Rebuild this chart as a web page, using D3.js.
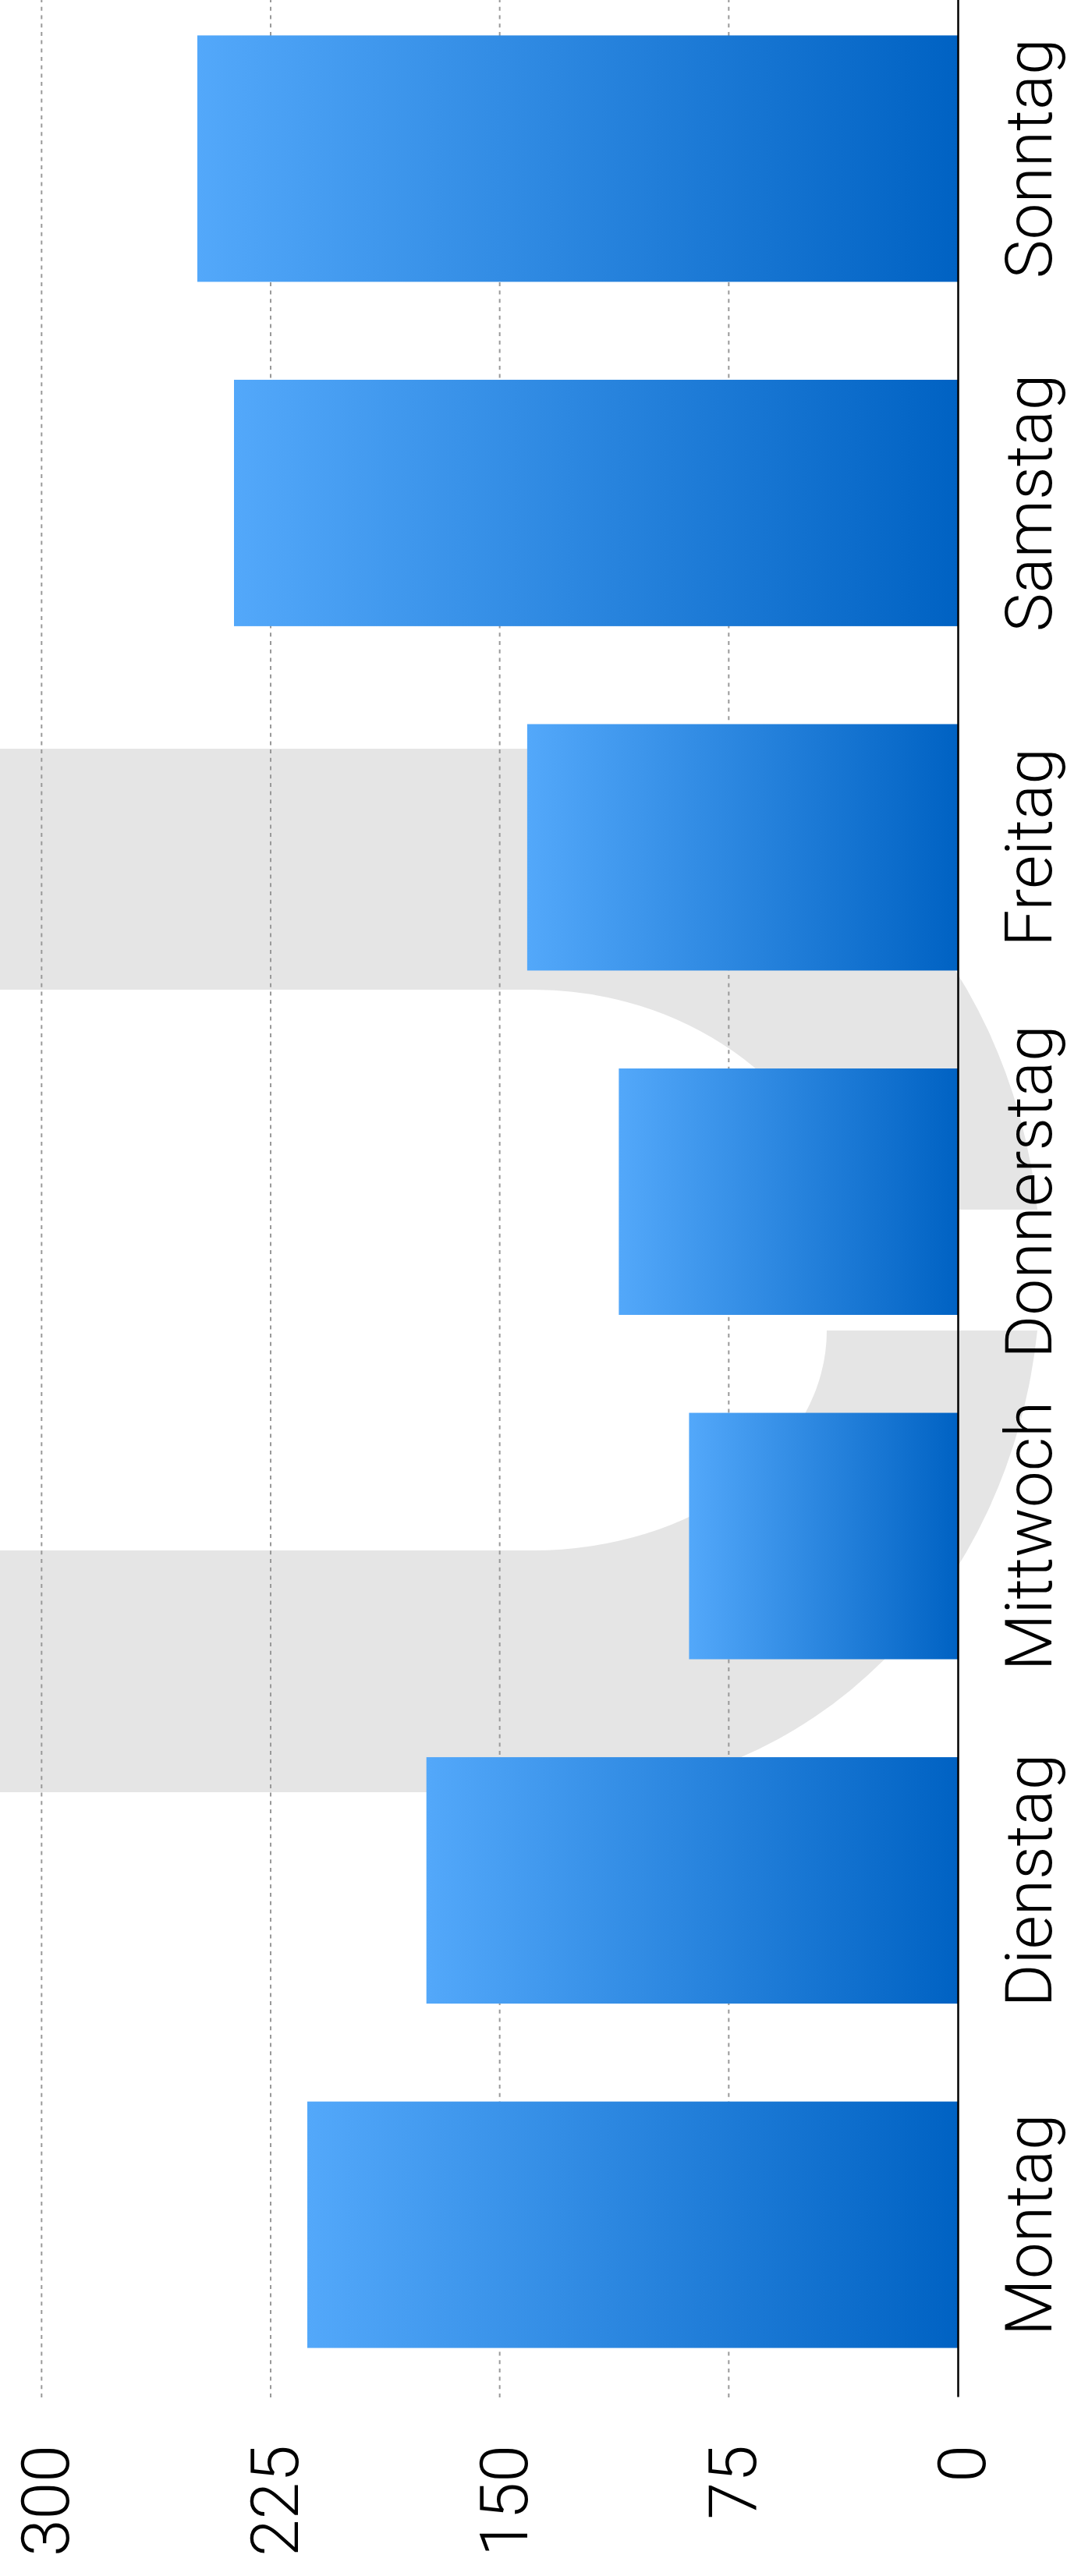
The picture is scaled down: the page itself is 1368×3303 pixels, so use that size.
<!DOCTYPE html>
<html>
<head>
<meta charset="utf-8">
<script src="https://cdn.jsdelivr.net/npm/d3@7"></script>
<style>
  body { margin: 0; background: #fff; }
  text { font-family: "Helvetica Neue", Roboto, "Liberation Sans", sans-serif; font-weight: 300; }
</style>
</head>
<body>
<svg id="barchart"></svg>
<script>
// Data
let days = ["Montag", "Dienstag", "Mittwoch", "Donnerstag", "Freitag", "Samstag", "Sonntag"];
let values = [213, 174, 88, 111, 141, 237, 249];
let valueTicks = [0, 75, 150, 225, 300];

let pageWidth = 1368,
  pageHeight = 3303;

// The chart is drawn as a normal column chart and then turned by -90 degrees
let margin = { left: 229, base: 1228 };
let chartLength = 3321 - margin.left;

let svg = d3
  .select("#barchart")
  .attr("width", pageWidth)
  .attr("height", pageHeight);

// Gradient for the bars (light at the top of a column, dark at the baseline)
let grad = svg
  .append("defs")
  .append("linearGradient")
  .attr("id", "barGrad")
  .attr("x1", 0)
  .attr("y1", 0)
  .attr("x2", 0)
  .attr("y2", 1);
grad.append("stop").attr("offset", "0%").attr("stop-color", "#53a8fa");
grad.append("stop").attr("offset", "100%").attr("stop-color", "#0062c3");

// Grey watermark in the background
svg
  .append("g")
  .attr("fill", "#e5e5e5")
  .selectAll("path")
  .data([
    "M0,960 L734,960 A600,669 0 0 1 1330,1551 L1084,1551 A410,359.5 0 0 0 684,1269 L0,1269 Z",
    "M1060,1706 L1330,1706 A600,669 0 0 1 734,2298 L0,2298 L0,1988 L684,1988 A376,282 0 0 0 1060,1706 Z",
  ])
  .enter()
  .append("path")
  .attr("d", (d) => d);

let g = svg
  .append("g")
  .attr("transform", `translate(0,${pageHeight}) rotate(-90)`);

// Scales
let x = d3
  .scaleBand()
  .domain(days)
  .range([margin.left, margin.left + chartLength])
  .paddingInner(0.2844)
  .paddingOuter(0.1436);

let y = d3.scaleLinear().domain([0, 300]).range([margin.base, margin.base - 300 * 3.9156]);

// Dashed grid lines
g.append("g")
  .selectAll("line")
  .data(valueTicks.slice(1))
  .enter()
  .append("line")
  .attr("x1", margin.left)
  .attr("x2", margin.left + chartLength)
  .attr("y1", (d) => y(d))
  .attr("y2", (d) => y(d))
  .attr("stroke", "#999")
  .attr("stroke-width", 2)
  .attr("stroke-dasharray", "5,5.7");

// Bars
g.append("g")
  .selectAll("rect")
  .data(values)
  .enter()
  .append("rect")
  .attr("x", (d, i) => x(days[i]))
  .attr("y", (d) => y(d))
  .attr("width", x.bandwidth())
  .attr("height", (d) => y(0) - y(d))
  .attr("fill", "url(#barGrad)");

// Category axis
let xAxis = g
  .append("g")
  .attr("transform", `translate(0,${margin.base})`)
  .call(d3.axisBottom(x).tickSize(0).tickSizeOuter(0).tickPadding(60));
xAxis.select(".domain").attr("stroke", "#000").attr("stroke-width", 2.5);
xAxis
  .selectAll("text")
  .style("font-size", "84px")
  .attr("fill", "#000");

// Value axis
let yAxis = g
  .append("g")
  .attr("transform", `translate(${margin.left},0)`)
  .call(d3.axisLeft(y).tickValues(valueTicks).tickSize(0).tickPadding(61));
yAxis.select(".domain").remove();
yAxis
  .selectAll("text")
  .attr("dy", "0.4em")
  .style("font-size", "86px")
  .attr("fill", "#000");
</script>
</body>
</html>
